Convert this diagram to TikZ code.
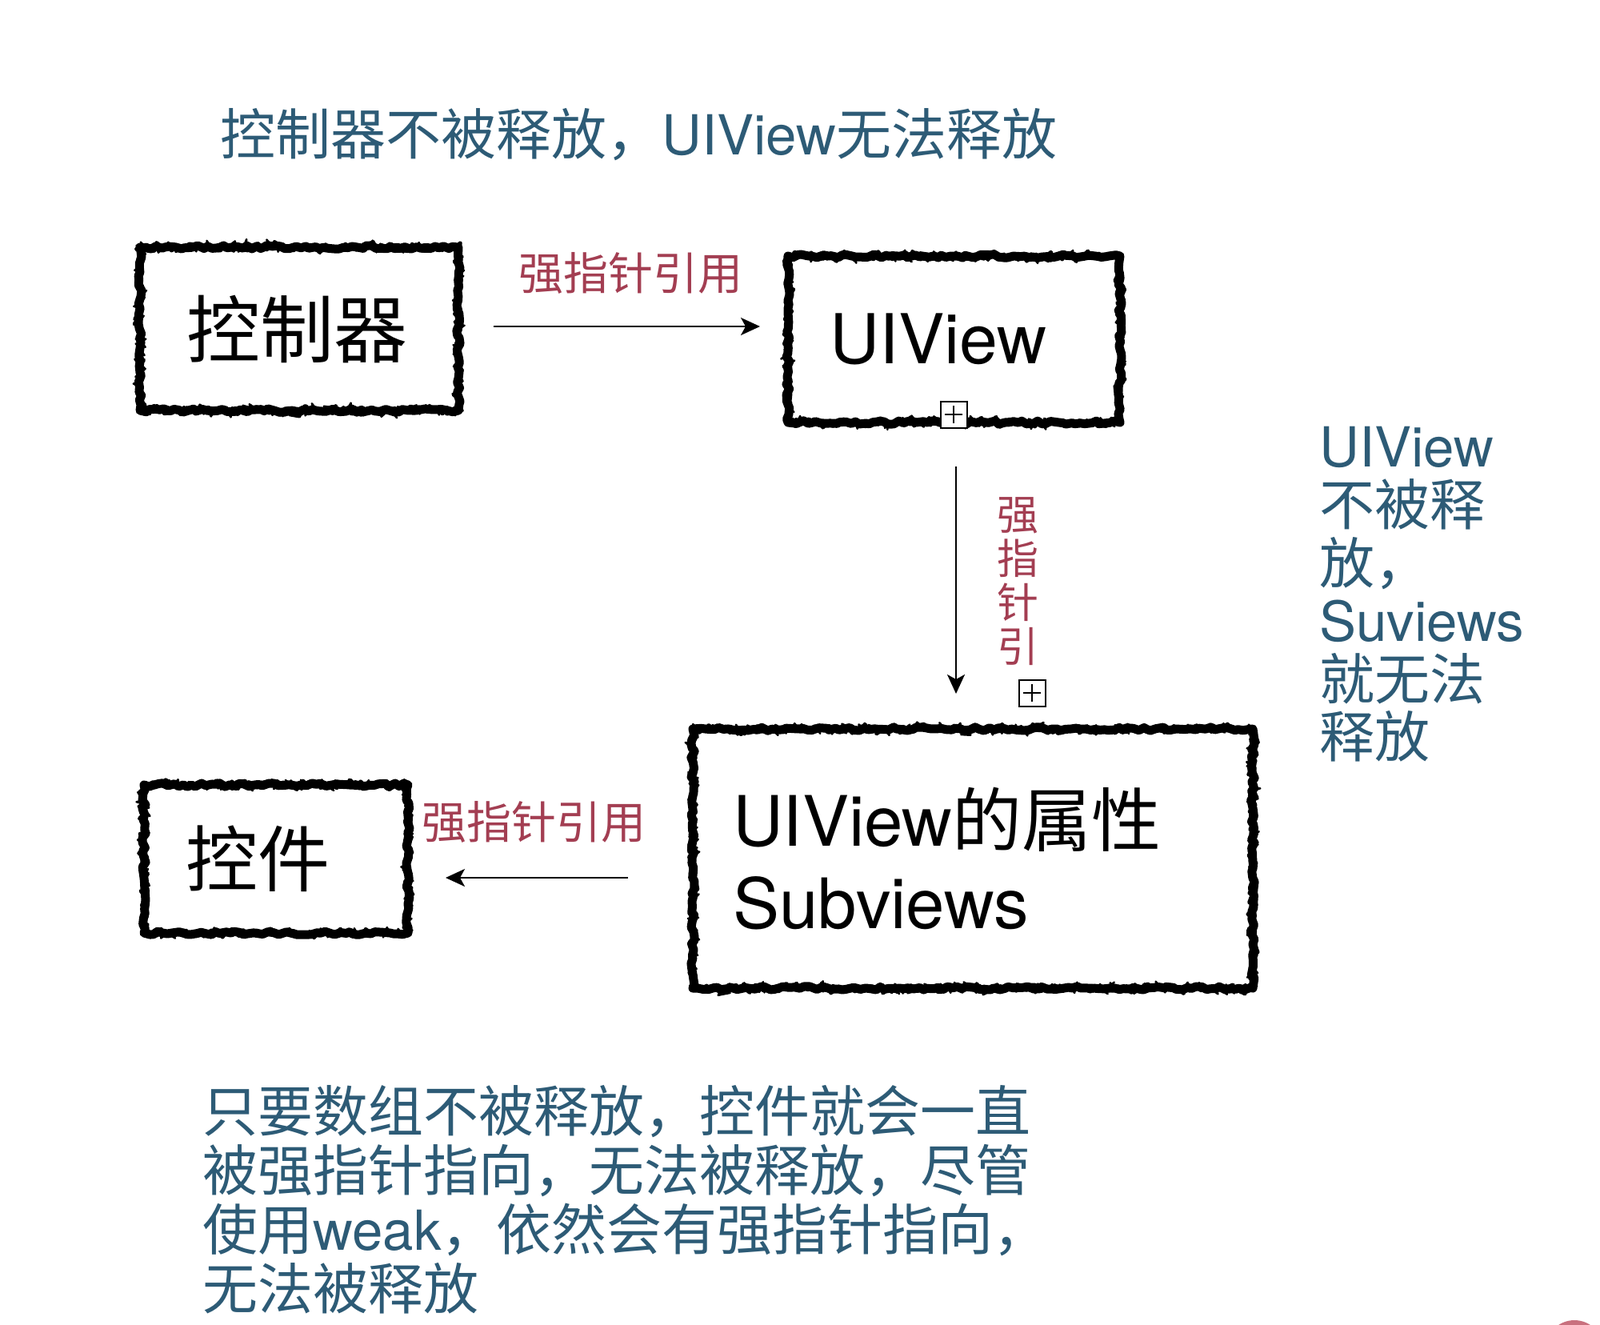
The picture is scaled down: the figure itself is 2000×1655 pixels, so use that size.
\documentclass[tikz,border=0pt]{standalone}
\usepackage{fontspec}
\setmainfont{TeX Gyre Heros}
\newfontfamily\cjk{Noto Sans CJK SC}
\usetikzlibrary{arrows.meta,decorations.pathmorphing}
\definecolor{notetxt}{HTML}{2D5B76}
\definecolor{reflab}{HTML}{A33E52}
\definecolor{cornerdot}{HTML}{C9707E}
\tikzset{
  brushbox/.style={rectangle, draw=black, line width=5.5pt, line join=round, outer sep=0pt, inner ysep=0pt, align=left,
    decoration={random steps, segment length=3pt, amplitude=1.1pt}, decorate,
    postaction={draw=black, line width=2.6pt, line join=round, decoration={random steps, segment length=1.5pt, amplitude=2.6pt}, decorate},
    postaction={draw=black, line width=1.2pt, line join=round, decoration={random steps, segment length=1.5pt, amplitude=3.6pt}, decorate}},
  boxtext/.style={font=\fontsize{#1}{51.5pt}\selectfont},
  arr/.style={line width=1.1pt, draw=black, -{Stealth[length=12pt,width=11pt,inset=3pt]}},
  redlab/.style={text=reflab, inner sep=0pt, font=\fontsize{28pt}{30pt}\selectfont\cjk},
  note/.style={text=notetxt, inner sep=0pt, align=left},
  pbox/.style={rectangle, draw=black, fill=white, line width=1pt, minimum size=16.5pt, inner sep=0pt,
    path picture={
      \draw[line width=1.1pt] ([xshift=-5.5pt]path picture bounding box.center) -- ([xshift=5.5pt]path picture bounding box.center);
      \draw[line width=1.1pt] ([yshift=-5.5pt]path picture bounding box.center) -- ([yshift=5.5pt]path picture bounding box.center);}}
}
\begin{document}
\begin{tikzpicture}[x=0.5pt,y=-0.5pt]
\useasboundingbox (0,0) rectangle (2000,1655);
\fill[white] (0,0) rectangle (2000,1655);

% title
\node[note, anchor=west, font=\fontsize{34.5pt}{40pt}\selectfont] (title) at (275,168)
  {{\cjk 控制器不被释放，}UIView{\cjk 无法释放}};

% boxes
\node[brushbox, boxtext=46pt, minimum width=199pt, minimum height=102pt, inner xsep=29pt, text width=141pt] (ctrl) at (374,411) {\cjk 控制器};
\node[brushbox, boxtext=43pt, minimum width=207.5pt, minimum height=104pt, inner xsep=26pt, text width=155.5pt] (uiview) at (1192.5,424) {UIView};
\node[brushbox, boxtext=43.5pt, minimum width=350pt, minimum height=162pt, inner xsep=25pt, text width=300pt] (subv) at (1216,1073) {UIView{\cjk 的属性}\\Subviews};
\node[brushbox, boxtext=45pt, minimum width=165pt, minimum height=92.5pt, inner xsep=26pt, text width=113pt] (kj) at (345,1073.5) {\cjk 控件};

% connectors
\draw[arr, shorten <=22pt, shorten >=17.5pt] ([yshift=1.5pt]ctrl.east) -- ([yshift=1.5pt]ctrl.east -| uiview.west);
\draw[arr, shorten <=27.5pt, shorten >=22pt] ([xshift=1.25pt]uiview.south) -- ([xshift=1.25pt]uiview.south |- subv.north);
\draw[arr, shorten <=40.5pt, shorten >=23.5pt] ([yshift=-12pt]subv.west) -- ([yshift=-12pt]subv.west -| kj.east);

% labels
\node[redlab] (l1) at (788,341) {强指针引用};
\node[redlab, font=\fontsize{26pt}{27.5pt}\selectfont\cjk, align=center, text width=27pt] (l2) at (1272,727) {强\\指\\针\\引};
\node[redlab] (l3) at (667,1027) {强指针引用};

% expand boxes
\node[pbox] (p1) at (1192,518) {};
\node[pbox] (p2) at (1290,866) {};

% side note
\node[note, anchor=west, font=\fontsize{34.5pt}{36.3pt}\selectfont] (side) at (1649,743)
  {UIView\\{\cjk 不被释}\\{\cjk 放，}\\Suviews\\{\cjk 就无法}\\{\cjk 释放}};

% bottom note
\node[note, anchor=west, font=\fontsize{34.5pt}{37pt}\selectfont] (bottom) at (253,1499)
  {{\cjk 只要数组不被释放，控件就会一直}\\
   {\cjk 被强指针指向，无法被释放，尽管}\\
   {\cjk 使用}weak{\cjk ，依然会有强指针指向，}\\
   {\cjk 无法被释放}};

% corner mark
\fill[cornerdot] (1968,1686) circle (36);
\end{tikzpicture}
\end{document}
